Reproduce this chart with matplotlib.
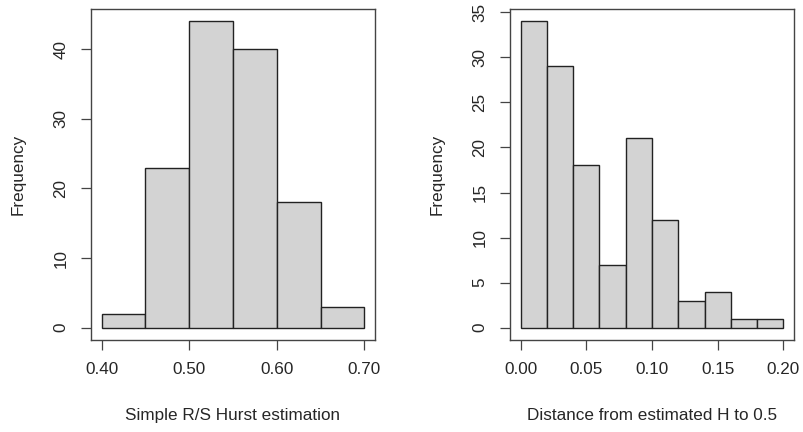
import matplotlib
matplotlib.use("Agg")
import matplotlib.pyplot as plt
import numpy as np

plt.rcParams['font.family'] = ['Liberation Sans', 'DejaVu Sans']

# Left histogram: Simple R/S Hurst estimation
left_edges = [0.40, 0.45, 0.50, 0.55, 0.60, 0.65, 0.70]
left_counts = [2, 23, 44, 40, 18, 3]
left_xticks = [0.40, 0.50, 0.60, 0.70]
left_xticklabels = ["0.40", "0.50", "0.60", "0.70"]
left_yticks = [0, 10, 20, 30, 40]

# Right histogram: Distance from estimated H to 0.5
right_edges = [0.00, 0.02, 0.04, 0.06, 0.08, 0.10, 0.12, 0.14, 0.16, 0.18, 0.20]
right_counts = [34, 29, 18, 7, 21, 12, 3, 4, 1, 1]
right_xticks = [0.00, 0.05, 0.10, 0.15, 0.20]
right_xticklabels = ["0.00", "0.05", "0.10", "0.15", "0.20"]
right_yticks = [0, 5, 10, 15, 20, 25, 30, 35]

W, H = 804, 432
fig = plt.figure(figsize=(W / 100, H / 100), dpi=100)

fill = '#D3D3D3'
edge = '#222222'
textc = '#262626'
fs = 12.3

def make(ax, edges, counts, xticks, xtl, yticks, xlabel):
    edges = np.asarray(edges)
    ax.bar(edges[:-1], counts, width=np.diff(edges), align='edge',
           color=fill, edgecolor=edge, linewidth=1.0)
    x0, x1 = edges[0], edges[-1]
    r = x1 - x0
    ax.set_xlim(x0 - 0.04 * r, x1 + 0.04 * r)
    ym = max(counts)
    ax.set_ylim(-0.04 * ym, ym * 1.04)
    ax.set_xticks(xticks)
    ax.set_xticklabels(xtl)
    ax.set_yticks(yticks)
    ax.set_yticklabels([str(v) for v in yticks], rotation=90, va='center')
    ax.tick_params(direction='out', length=7.2, width=0.9, pad=9,
                   labelsize=fs, colors='#444444', labelcolor=textc)
    for s in ax.spines.values():
        s.set_color('#444444')
        s.set_linewidth(1.0)
    ax.set_xlabel(xlabel, fontsize=fs, color=textc, labelpad=22)
    ax.set_ylabel("Frequency", fontsize=fs, color=textc, labelpad=20)

ax1 = fig.add_axes([91 / W, (H - 340) / H, 284 / W, 331 / H])
make(ax1, left_edges, left_counts, left_xticks, left_xticklabels, left_yticks,
     "Simple R/S Hurst estimation")
ax2 = fig.add_axes([510 / W, (H - 340) / H, 284 / W, 331 / H])
make(ax2, right_edges, right_counts, right_xticks, right_xticklabels, right_yticks,
     "Distance from estimated H to 0.5")

fig.savefig("out.png", dpi=100)
